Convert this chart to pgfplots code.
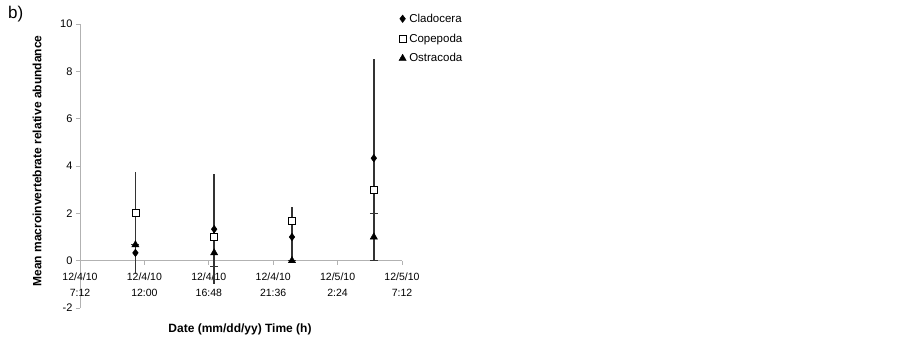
\documentclass[border=0pt]{standalone}
\usepackage{pgfplots}
\usepackage{pgfplotstable}
\pgfplotsset{compat=1.18}
\usepackage{fontspec}
\setmainfont{Liberation Sans}
\pgfplotstableread{
x y e
11.33 0.33 0.88
17.2 1.33 2.32
23.0 1.0 1.0
29.1 4.33 4.17
}\clad
\pgfplotstableread{
x y e
11.33 2.0 1.75
17.2 1.0 0.5
23.0 1.67 0.58
29.1 3.0 1.0
}\cope
\pgfplotstableread{
x y e
11.33 0.67 0
17.2 0.33 0.58
23.0 0.0 0
29.1 1.0 1.0
}\ostr
\begin{document}
\begin{tikzpicture}
\begin{axis}[scale only axis, width=322pt, height=284pt,
 xmin=7.2, xmax=31.2, ymin=-2, ymax=10,
 axis y line=left, axis x line=middle,
 hide obscured x ticks=false, hide obscured y ticks=false,
 axis line style={-, draw=gray!60, line width=0.8pt},
 tick align=outside, major tick length=4pt,
 tick style={gray!60, line width=0.8pt},
 xtick={7.2,12,16.8,21.6,26.4,31.2},
 xticklabels={{12/4/10\\7:12},{12/4/10\\12:00},{12/4/10\\16:48},{12/4/10\\21:36},{12/5/10\\2:24},{12/5/10\\7:12}},
 xticklabel style={align=center, font=\fontsize{10.5}{16}\selectfont, inner sep=1pt, yshift=-7pt},
 ytick={-2,0,2,4,6,8,10},
 yticklabel style={font=\fontsize{11}{12}\selectfont},
 /pgf/number format/assume math mode=true,
 clip=false,
 legend style={at={(0.99,1.04)}, anchor=north west, draw=none, fill=none,
   font=\fontsize{11.5}{12}\selectfont, row sep=8pt, inner sep=0pt,
   nodes={inner sep=1pt},
   /tikz/every odd column/.append style={column sep=2pt}},
 legend cell align=left,
]
\addplot[draw=none, mark=none, forget plot, error bars/.cd, y dir=both, y explicit, error mark=none, error bar style={draw=black!80, line width=1.5pt}] table[x=x,y=y,y error=e] {\clad};
\addplot[draw=none, mark=none, forget plot, error bars/.cd, y dir=both, y explicit, error mark=none, error bar style={draw=black!80, line width=1.5pt}] table[x=x,y=y,y error=e] {\cope};
\addplot[draw=none, mark=none, forget plot, error bars/.cd, y dir=both, y explicit, error bar style={draw=black!80, line width=1.5pt}, error mark options={draw=black!80, line width=1.3pt, mark size=4pt, rotate=90}] table[x=x,y=y,y error=e] {\ostr};
\addplot[only marks, mark=diamond*, mark size=3.8pt, mark options={fill=black, draw=black}] table[x=x,y=y] {\clad};
\addlegendentry{Cladocera}
\addplot[only marks, mark=square*, mark size=3.5pt, mark options={fill=white, draw=black, line width=0.8pt}] table[x=x,y=y] {\cope};
\addlegendentry{Copepoda}
\addplot[only marks, mark=triangle*, mark size=4.2pt, mark options={fill=black, draw=black}] table[x=x,y=y] {\ostr};
\addlegendentry{Ostracoda}
\coordinate (ll) at (axis cs:7.2,-2);
\end{axis}
\pgfresetboundingbox
\path[use as bounding box] ([xshift=-80pt,yshift=-47pt]ll) rectangle ([xshift=823pt,yshift=308pt]ll);
\node[anchor=north west, font=\fontsize{17}{17}\selectfont, inner sep=0] at ([xshift=-72pt,yshift=302pt]ll) {b)};
\node[rotate=90, font=\bfseries\fontsize{12}{14}\selectfont] at ([xshift=-43pt,yshift=147pt]ll) {Mean macroinvertebrate relative abundance};
\node[font=\bfseries\fontsize{12}{14}\selectfont] at ([xshift=160pt,yshift=-21pt]ll) {Date (mm/dd/yy) Time (h)};
\end{tikzpicture}
\end{document}
